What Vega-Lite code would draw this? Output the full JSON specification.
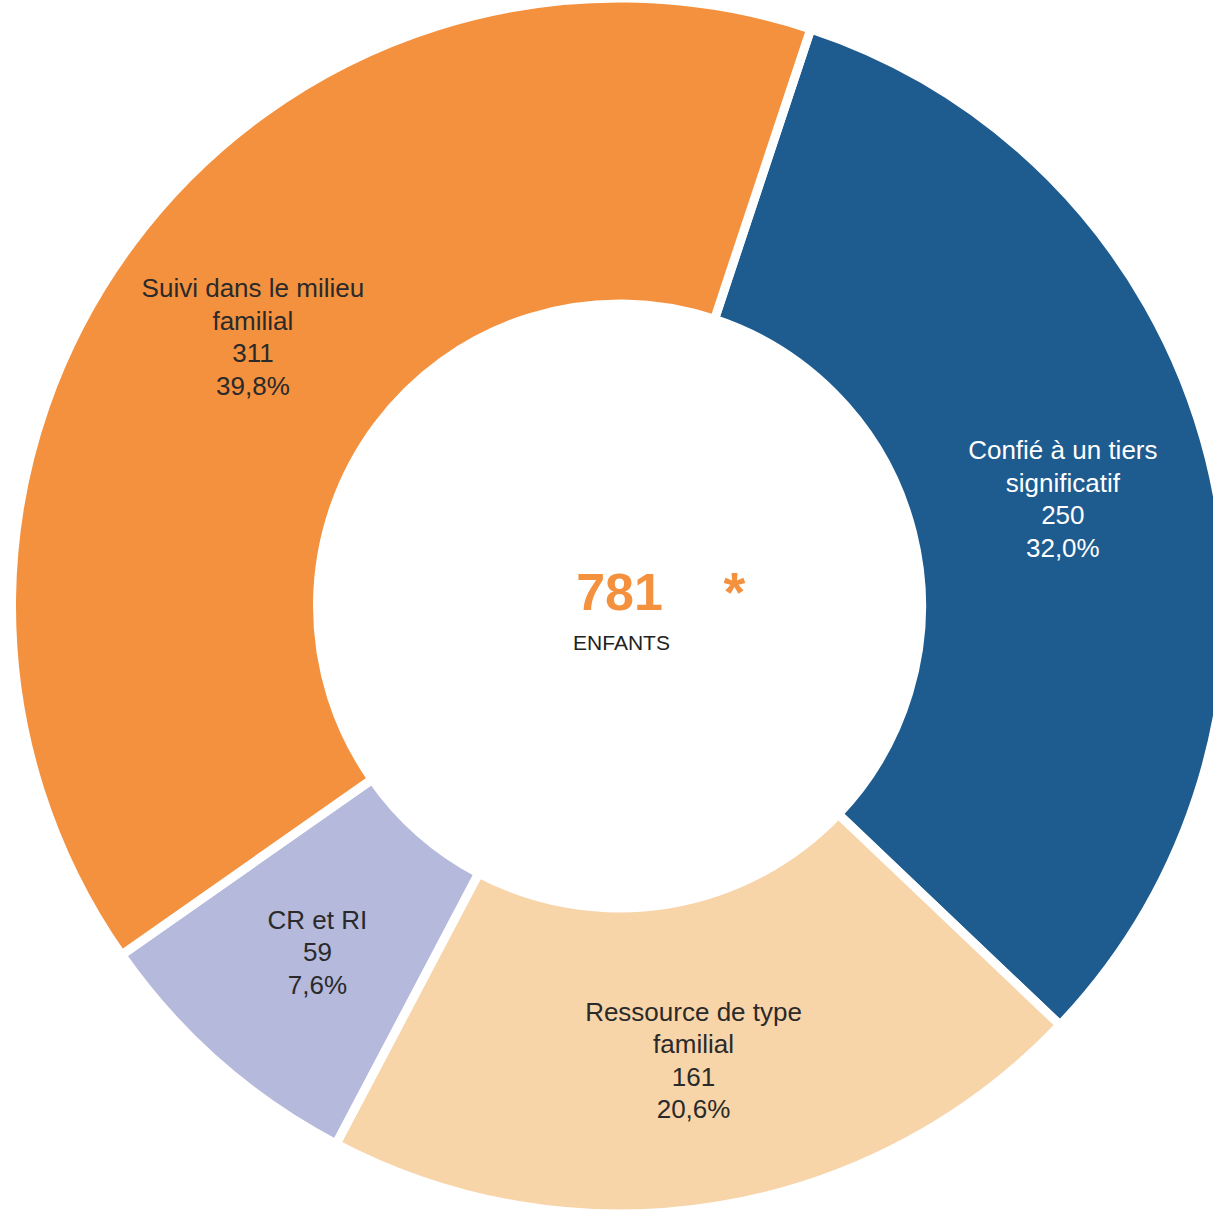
{
  "$schema": "https://vega.github.io/schema/vega-lite/v6.json",
  "width": 1213,
  "height": 1210,
  "autosize": {"type": "none"},
  "padding": 0,
  "background": "white",
  "config": {"view": {"stroke": null}, "font": "Liberation Sans"},
  "data": {
    "values": [
      {"cat": "Confié à un tiers significatif", "n": 250, "pct": "32,0%", "ord": 1, "label": "Confié à un tiers\nsignificatif\n250\n32,0%"},
      {"cat": "Ressource de type familial", "n": 161, "pct": "20,6%", "ord": 2, "label": "Ressource de type\nfamilial\n161\n20,6%"},
      {"cat": "CR et RI", "n": 59, "pct": "7,6%", "ord": 3, "label": "CR et RI\n59\n7,6%"},
      {"cat": "Suivi dans le milieu familial", "n": 311, "pct": "39,8%", "ord": 4, "label": "Suivi dans le milieu\nfamilial\n311\n39,8%"}
    ]
  },
  "layer": [
    {
      "mark": {"type": "arc", "radius": 608, "radius2": 302, "stroke": "white", "strokeWidth": 9, "xOffset": 13, "yOffset": 1},
      "encoding": {
        "theta": {"field": "n", "type": "quantitative", "stack": true, "scale": {"range": [0.32, 6.6032]}},
        "order": {"field": "ord", "type": "quantitative"},
        "color": {
          "field": "cat", "type": "nominal", "legend": null,
          "scale": {
            "domain": ["Confié à un tiers significatif", "Ressource de type familial", "CR et RI", "Suivi dans le milieu familial"],
            "range": ["#1E5B8F", "#F8D4A9", "#B5B9DB", "#F4913F"]
          }
        }
      }
    },
    {
      "mark": {"type": "text", "radius": 457, "fontSize": 26, "lineHeight": 32.5, "lineBreak": "\n", "align": "center", "baseline": "middle", "xOffset": 13, "yOffset": 1, "dy": -44},
      "encoding": {
        "theta": {"field": "n", "type": "quantitative", "stack": true},
        "order": {"field": "ord", "type": "quantitative"},
        "detail": {"field": "cat", "type": "nominal"},
        "text": {"condition": {"test": "datum.ord == 3", "value": ""}, "field": "label", "type": "nominal"},
        "color": {"condition": {"test": "datum.ord == 1", "value": "white"}, "value": "#2a2a2a"}
      }
    },
    {
      "mark": {"type": "text", "radius": 457, "fontSize": 26, "lineHeight": 32.5, "lineBreak": "\n", "align": "center", "baseline": "middle", "xOffset": 13, "yOffset": 1, "dy": -28},
      "encoding": {
        "theta": {"field": "n", "type": "quantitative", "stack": true},
        "order": {"field": "ord", "type": "quantitative"},
        "detail": {"field": "cat", "type": "nominal"},
        "text": {"condition": {"test": "datum.ord != 3", "value": ""}, "field": "label", "type": "nominal"},
        "color": {"value": "#2a2a2a"}
      }
    },
    {
      "data": {"values": [{"t": "781"}]},
      "mark": {"type": "text", "fontSize": 52, "fontWeight": "bold", "color": "#F4913F", "align": "center", "baseline": "middle", "dx": 13, "dy": -11},
      "encoding": {"text": {"field": "t", "type": "nominal"}}
    },
    {
      "data": {"values": [{"t": "*"}]},
      "mark": {"type": "text", "fontSize": 56, "fontWeight": "bold", "color": "#F4913F", "align": "center", "baseline": "middle", "dx": 128, "dy": -11},
      "encoding": {"text": {"field": "t", "type": "nominal"}}
    },
    {
      "data": {"values": [{"t": "ENFANTS"}]},
      "mark": {"type": "text", "fontSize": 21, "color": "#222222", "align": "center", "baseline": "middle", "dx": 15, "dy": 39},
      "encoding": {"text": {"field": "t", "type": "nominal"}}
    }
  ]
}
